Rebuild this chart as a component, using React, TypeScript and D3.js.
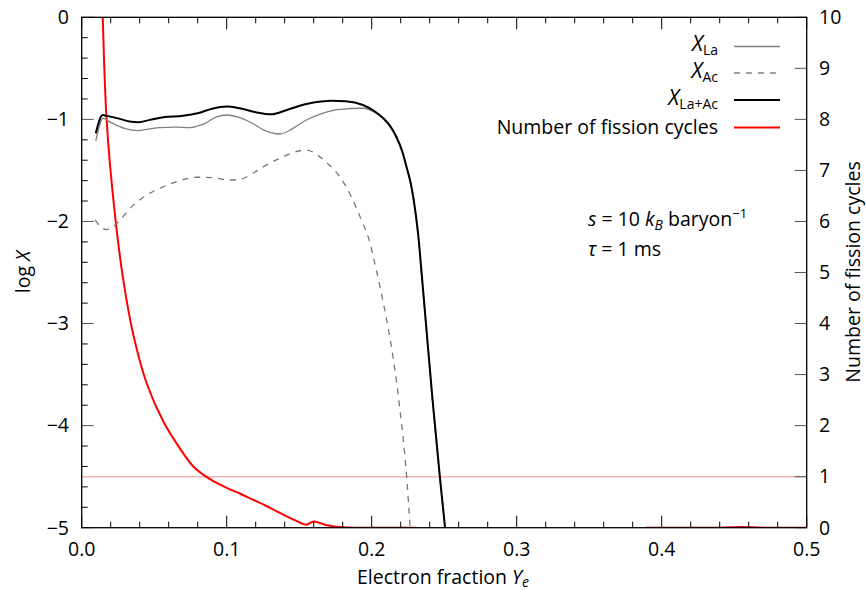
import React from "react";
import * as d3 from "d3";

// ---- data ----
const xLaAc_ye = [0.0097,0.0145,0.0168,0.025,0.033,0.039,0.047,0.0563,0.070,0.080,0.090,0.100,0.109,0.120,0.131,0.142,0.155,0.165,0.172,0.182,0.194,0.202,0.208,0.213,0.217,0.221,0.224,0.227,0.229,0.232,0.235,0.238,0.242,0.247,0.2506];
const xLaAc_log = [-1.136,-0.957,-0.964,-0.99,-1.02,-1.028,-1.005,-0.979,-0.964,-0.94,-0.895,-0.875,-0.892,-0.93,-0.95,-0.905,-0.849,-0.825,-0.817,-0.822,-0.859,-0.92,-0.989,-1.07,-1.17,-1.31,-1.463,-1.63,-1.79,-2.12,-2.6,-3.095,-3.75,-4.5,-5.0];

const xLa_ye = [0.0097,0.0149,0.020,0.030,0.039,0.046,0.054,0.065,0.0747,0.085,0.093,0.100,0.109,0.118,0.125,0.1368,0.146,0.155,0.165,0.178,0.194,0.203,0.208,0.213,0.217,0.221,0.224,0.227,0.229,0.232,0.235,0.238,0.242,0.247,0.2505];
const xLa_log = [-1.21,-0.989,-1.03,-1.09,-1.11,-1.095,-1.08,-1.075,-1.08,-1.04,-0.975,-0.957,-0.983,-1.04,-1.10,-1.143,-1.085,-1.006,-0.945,-0.901,-0.891,-0.94,-0.995,-1.08,-1.18,-1.32,-1.475,-1.645,-1.81,-2.14,-2.62,-3.12,-3.77,-4.52,-5.0];

const xAc_ye = [0.0092,0.0130,0.0172,0.021,0.0264,0.0356,0.045,0.0563,0.068,0.0793,0.090,0.1023,0.110,0.118,0.127,0.137,0.147,0.155,0.164,0.171,0.178,0.187,0.193,0.198,0.202,0.206,0.210,0.215,0.2195,0.2241,0.2265];
const xAc_log = [-1.985,-2.05,-2.08,-2.06,-1.985,-1.84,-1.74,-1.66,-1.60,-1.567,-1.57,-1.594,-1.585,-1.528,-1.45,-1.38,-1.32,-1.30,-1.365,-1.45,-1.561,-1.79,-1.99,-2.17,-2.4,-2.66,-2.94,-3.357,-3.846,-4.5,-5.0];

const fission_ye = [0.0125,0.0145,0.0172,0.0223,0.0287,0.0356,0.0448,0.0563,0.0678,0.077,0.0885,0.100,0.109,0.118,0.127,0.1345,0.146,0.1547,0.160,0.169,0.180,0.190,0.231,0.30,0.389,0.44,0.455,0.47,0.5];
const fission_n: (number | null)[] = [12.0,10.0,7.98,6.3,4.85,3.78,2.83,2.08,1.55,1.2,0.95,0.78,0.67,0.55,0.43,0.32,0.16,0.06,0.12,0.05,0.01,0.0,0.0,null,0,0,0.015,0,0];

const xTickLabels = ["0.0","0.1","0.2","0.3","0.4","0.5"];
const xTicks = [0,0.1,0.2,0.3,0.4,0.5];
const yLeftTicks = [0,-1,-2,-3,-4,-5];
const yRightTicks = [0,1,2,3,4,5,6,7,8,9,10];
const refLine = 1;

const FONT = "'Open Sans', 'DejaVu Sans', sans-serif";
const FS = 19.5;
const SUB = 14;

export default function App() {
  const W = 866, H = 593;
  const x0 = 81.7, x1 = 806.7, yTop = 17.3, yBot = 527.7;
  const x = d3.scaleLinear().domain([0, 0.5]).range([x0, x1]);
  const yL = d3.scaleLinear().domain([-5, 0]).range([yBot, yTop]);
  const yR = d3.scaleLinear().domain([0, 10]).range([yBot, yTop]);

  const mk = (xs: number[], ys: (number|null)[], sy: d3.ScaleLinear<number, number>, curve: d3.CurveFactory) => {
    const pts = xs.map((v, i) => [v, ys[i]] as [number, number | null]);
    return d3.line<[number, number | null]>()
      .defined(d => d[1] !== null)
      .x(d => x(d[0]))
      .y(d => sy(d[1] as number))
      .curve(curve)(pts) || "";
  };

  const pLa = mk(xLa_ye, xLa_log, yL, d3.curveMonotoneX);
  const pAc = mk(xAc_ye, xAc_log, yL, d3.curveMonotoneX);
  const pTot = mk(xLaAc_ye, xLaAc_log, yL, d3.curveMonotoneX);
  const pFis = mk(fission_ye, fission_n, yR, d3.curveCatmullRom.alpha(0.5));

  const minorX = d3.range(0, 0.5001, 0.02);
  const minorYL = d3.range(-5, 0.001, 0.2);

  const legendRows = [
    { y: 46.5, kind: "La" },
    { y: 73, kind: "Ac" },
    { y: 100, kind: "Tot" },
    { y: 127.5, kind: "Fis" },
  ];

  return (
    <svg width={W} height={H} style={{ position: "absolute", left: 0, top: 0, background: "#fff" }} fontFamily={FONT}>
      <defs>
        <clipPath id="plot">
          <rect x={x0} y={yTop} width={x1 - x0} height={yBot - yTop} />
        </clipPath>
      </defs>
      <line x1={x0} x2={x1} y1={yR(refLine)} y2={yR(refLine)} stroke="#f7b3b3" strokeWidth={1.5} />
      <g clipPath="url(#plot)" fill="none">
        <path d={pFis} stroke="#ff0000" strokeWidth={2} />
        <path d={pAc} stroke="#777" strokeWidth={1.3} strokeDasharray="6,6" />
        <path d={pLa} stroke="#808080" strokeWidth={1.3} />
        <path d={pTot} stroke="#000" strokeWidth={2} />
      </g>
      <g stroke="#000" strokeWidth={1}>
        {minorX.map((t, i) => {
          const major = Math.abs(t * 10 - Math.round(t * 10)) < 1e-6;
          const len = major ? 12 : 6;
          return (
            <g key={"xt" + i}>
              <line x1={x(t)} x2={x(t)} y1={yBot} y2={yBot - len} />
              <line x1={x(t)} x2={x(t)} y1={yTop} y2={yTop + len} />
            </g>
          );
        })}
        {minorYL.map((t, i) => {
          const major = Math.abs(t - Math.round(t)) < 1e-6;
          return major ? (
            <line key={"yl" + i} x1={x0} x2={x0 + 12} y1={yL(t)} y2={yL(t)} stroke="#555" />
          ) : (
            <line key={"yl" + i} x1={x0} x2={x0 + 6} y1={yL(t)} y2={yL(t)} />
          );
        })}
        {yRightTicks.map((t) => (
          <line key={"yr" + t} x1={x1} x2={x1 - 12} y1={yR(t)} y2={yR(t)} stroke="#555" />
        ))}
      </g>
      <rect x={x0} y={yTop} width={x1 - x0} height={yBot - yTop} fill="none" stroke="#000" strokeWidth={1.3} />
      <g fontSize={FS} fill="#000">
        {xTicks.map((t, i) => (
          <text key={"xl" + i} x={x(t)} y={556} textAnchor="middle">{xTickLabels[i]}</text>
        ))}
        {yLeftTicks.map((t) => (
          <text key={"yll" + t} x={69} y={yL(t)} dy="0.35em" textAnchor="end">{t === 0 ? "0" : "\u2212" + Math.abs(t)}</text>
        ))}
        {yRightTicks.map((t) => (
          <text key={"yrl" + t} x={819} y={yR(t)} dy="0.35em" textAnchor="start">{t}</text>
        ))}
      </g>
      <text x={443} y={584} fontSize={FS} textAnchor="middle">
        Electron fraction <tspan fontStyle="italic">Y</tspan><tspan fontStyle="italic" fontSize={SUB} dy={3}>e</tspan>
      </text>
      <text transform="translate(30,272) rotate(-90)" fontSize={FS} textAnchor="middle">
        log <tspan fontStyle="italic">X</tspan>
      </text>
      <text transform="translate(860,272) rotate(-90)" fontSize={FS} textAnchor="middle">
        Number of fission cycles
      </text>
      <g fontSize={FS}>
        {legendRows.map((r) => (
          <g key={r.kind}>
            {r.kind === "Fis" ? (
              <text x={718} y={r.y} dy="0.35em" textAnchor="end">Number of fission cycles</text>
            ) : (
              <text x={718} y={r.y} dy="0.25em" textAnchor="end">
                <tspan fontStyle="italic" fontSize={21}>X</tspan>
                <tspan fontSize={SUB} dy={4}>{r.kind === "La" ? "La" : r.kind === "Ac" ? "Ac" : "La+Ac"}</tspan>
              </text>
            )}
            <line
              x1={734} x2={780} y1={r.y} y2={r.y}
              stroke={r.kind === "Fis" ? "#ff0000" : r.kind === "Tot" ? "#000" : "#808080"}
              strokeWidth={r.kind === "Fis" || r.kind === "Tot" ? 2 : 1.3}
              strokeDasharray={r.kind === "Ac" ? "6,6" : undefined}
            />
          </g>
        ))}
      </g>
      <text x={588} y={226} fontSize={FS}>
        <tspan fontStyle="italic">s</tspan> = 10 <tspan fontStyle="italic">k</tspan><tspan fontStyle="italic" fontSize={SUB} dy={4}>B</tspan><tspan dy={-4}> baryon</tspan><tspan fontSize={13} dy={-8}>{"\u22121"}</tspan>
      </text>
      <text x={588} y={256} fontSize={FS}>
        <tspan fontStyle="italic">{"\u03C4"}</tspan> = 1 ms
      </text>
    </svg>
  );
}
